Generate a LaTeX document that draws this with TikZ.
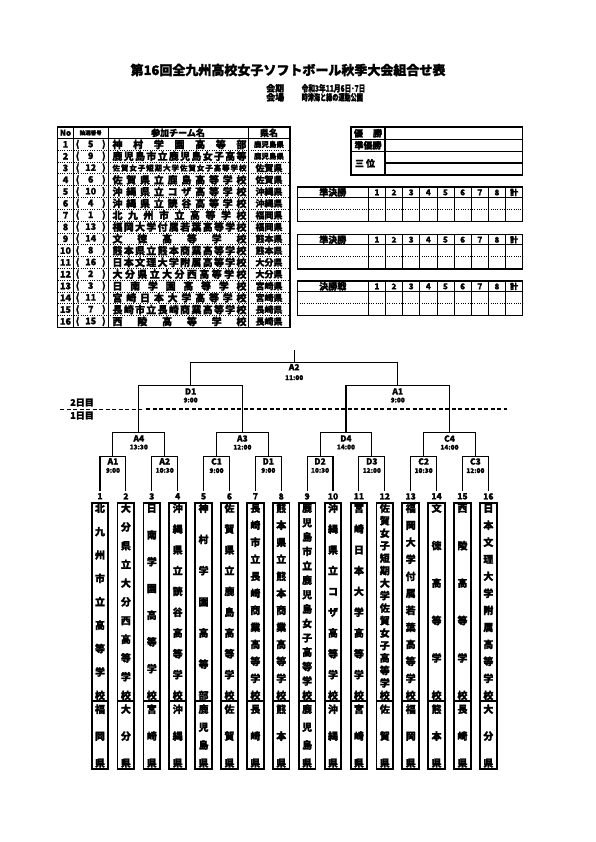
\documentclass[tikz,border=0pt]{standalone}
\usepackage{fontspec}
\usepackage{graphicx}
\usetikzlibrary{positioning}
\setmainfont{Noto Sans CJK JP}[BoldFeatures={FakeBold=1.5}]

% spread characters over a fixed width / height
\def\hspfirst#1{#1\hsprest}
\def\hsprest#1{\ifx#1\relax\else\hfill#1\expandafter\hsprest\fi}
\newcommand\hspread[2]{\hbox to #1{\expandafter\hspfirst#2\relax}}
\def\vspchar#1{\hbox to 0pt{\hss\vrule height .88em depth .12em width 0pt #1\hss}}
\def\vspfirst#1{\vspchar{#1}\vsprest}
\def\vsprest#1{\ifx#1\relax\else\vfill\vspchar{#1}\expandafter\vsprest\fi}
\newcommand\vspread[2]{\vbox to #1{\offinterlineskip\expandafter\vspfirst#2\relax}}
\newcommand\fsz[1]{\bfseries\fontsize{#1}{#1}\selectfont}

\begin{document}
\begin{tikzpicture}[x=1pt, y=-1pt,
    heavy/.style={line width=1.5pt},
    light/.style={line width=0.8pt},
    dotted line/.style={line width=0.8pt, dash pattern=on 1pt off 1.3pt},
    bracket/.style={line width=1.1pt},
    teambox/.style={line width=1.8pt},
    txt/.style={inner sep=0pt, font=\fsz{9}},
    mname/.style={inner sep=0pt, font=\fsz{8.5}},
    mtime/.style={inner sep=0pt, font=\fsz{6.5}}
]
    \useasboundingbox (0,0) rectangle (595,842);

    % Title
    \node[inner sep=0pt, font=\fsz{13}] (title) at (288,70) {第16回全九州高校女子ソフトボール秋季大会組合せ表};
    \node[txt, anchor=west] (kaiki) at (266,88.3) {会期};
    \node[txt, anchor=west] (kaikival) at (301.5,88.3) {\scalebox{0.74}[1]{令和3年11月6日･7日}};
    \node[txt, anchor=west] (kaijo) at (266,97.3) {会場};
    \node[txt, anchor=west] (kaijoval) at (301.5,97.3) {\scalebox{0.68}[1]{時津海と緑の運動公園}};

    % Entry list
    \draw[heavy] (57.5,127) rectangle (290,327.3);
    \foreach \xx in {73.5,108,248} \draw[light] (\xx,127) -- (\xx,327.3);
    \draw[heavy] (57.5,138.5) -- (290,138.5);
    \foreach \k in {1,...,15} \draw[dotted line] (57.5,{138.5+\k*11.8}) -- (290,{138.5+\k*11.8});
    \node[txt, font=\fsz{8}] (hno) at (65.5,132.8) {No};
    \node[txt, font=\fsz{5.5}] (hdraw) at (90.7,132.8) {抽選番号};
    \node[txt] (hteam) at (178,132.8) {参加チーム名};
    \node[txt] (hpref) at (269,132.8) {県名};
    \foreach \no/\dr/\tm/\pf/\fs/\ps in {1/5/神村学園高等部/鹿児島県/10/7.5,
        2/9/鹿児島市立鹿児島女子高等/鹿児島県/10/7.5,
        3/12/佐賀女子短期大学佐賀女子高等学校/佐賀県/7.5/9,
        4/6/佐賀県立鹿島高等学校/佐賀県/10/9,
        5/10/沖縄県立コザ高等学校/沖縄県/10/9,
        6/4/沖縄県立読谷高等学校/沖縄県/10/9,
        7/1/北九州市立高等学校/福岡県/10/9,
        8/13/福岡大学付属若葉高等学校/福岡県/10/9,
        9/14/文徳高等学校/熊本県/10/9,
        10/8/熊本県立熊本商業高等学校/熊本県/10/9,
        11/16/日本文理大学附属高等学校/大分県/10/9,
        12/2/大分県立大分西高等学校/大分県/10/9,
        13/3/日南学園高等学校/宮崎県/10/9,
        14/11/宮崎日本大学高等学校/宮崎県/10/9,
        15/7/長崎市立長崎商業高等学校/長崎県/10/9,
        16/15/西陵高等学校/長崎県/10/9}{
        \node[txt] (no\no) at (65.5,{132.6+\no*11.8}) {\no};
        \node[txt] (dr\no) at (90.7,{132.6+\no*11.8}) {\hbox to 30pt{(\hfill\dr\hfill)}};
        \node[txt, font=\fsz{\fs}] (tm\no) at (179.5,{132.6+\no*11.8}) {\hspread{134pt}{\tm}};
        \node[txt, font=\fsz{\ps}] (pf\no) at (269,{132.6+\no*11.8}) {\pf};
    }

    % Placings
    \draw[heavy] (351,127) rectangle (522.7,175);
    \draw[heavy] (385,127) -- (385,175);
    \draw[light] (351,139) -- (522.7,139);
    \draw[light] (351,151) -- (522.7,151);
    \draw[heavy] (385,163) -- (522.7,163);
    \node[txt] (win) at (368,133.3) {\hspread{28pt}{優勝}};
    \node[txt] (second) at (368,145.3) {準優勝};
    \node[txt] (third) at (365,163.3) {\hspread{20pt}{三位}};

    % Score sheets
    \foreach \ty/\lab in {187/準決勝, 234.3/準決勝, 281/決勝戦}{
        \draw[heavy] (297.3,\ty) rectangle (522.7,{\ty+34.5});
        \draw[heavy] (297.3,{\ty+10.3}) -- (522.7,{\ty+10.3});
        \draw[dotted line] (297.3,{\ty+22.5}) -- (522.7,{\ty+22.5});
        \foreach \c in {0,...,8} \draw[light] ({368.3+\c*17.15},\ty) -- ({368.3+\c*17.15},{\ty+34.5});
        \node[txt] at (332.8,{\ty+5.4}) {\lab};
        \foreach \c/\h in {1/1,2/2,3/3,4/4,5/5,6/6,7/7,8/8,9/計}
            \node[txt, font=\fsz{8}] at ({368.3+(\c-0.5)*17.15},{\ty+5.4}) {\h};
    }

    % Day line
    \draw[light, dash pattern=on 4pt off 2.5pt] (60,409) -- (142,409);
    \draw[line width=1.5pt, dash pattern=on 4pt off 2.5pt] (146,409) -- (507,409);
    \node[txt] (day2) at (82,402.5) {2日目};
    \node[txt] (day1) at (82,415.5) {1日目};

    % Bracket points
    \foreach \i in {1,...,16} \coordinate (t\i) at ({100+(\i-1)*25.89},491);
    \foreach \k in {1,...,8} \coordinate (m\k) at ({100+(2*\k-1.5)*25.89},456.7);
    \foreach \k in {1,...,4} \coordinate (n\k) at ({100+(4*\k-2.5)*25.89},432.7);
    \foreach \k in {1,2} \coordinate (q\k) at ({100+(8*\k-4.5)*25.89},385.7);
    \coordinate (fin) at ({100+7.5*25.89},362.3);
    \coordinate (champ) at ({100+7.5*25.89},350);

    % Bracket lines
    \foreach \k in {1,...,8}{
        \pgfmathtruncatemacro\ka{2*\k-1}
        \pgfmathtruncatemacro\kb{2*\k}
        \draw[bracket] (t\ka) |- (m\k) -| (t\kb);
    }
    \foreach \k in {1,...,4}{
        \pgfmathtruncatemacro\ka{2*\k-1}
        \pgfmathtruncatemacro\kb{2*\k}
        \draw[bracket] (m\ka) |- (n\k) -| (m\kb);
    }
    \draw[bracket] (n1) |- (q1) -| (n2);
    \draw[bracket] (n3) |- (q2) -| (n4);
    \draw[bracket] (q1) |- (fin) -| (q2);
    \draw[bracket] (champ) -- (fin);

    % Game labels
    \foreach \k/\g/\tt in {1/A1/9:00, 2/A2/10:30, 3/C1/9:00, 4/D1/9:00, 5/D2/10:30, 6/D3/12:00, 7/C2/10:30, 8/C3/12:00}{
        \node[mname, below=1.3pt of m\k] (gm\k) {\g};
        \node[mtime, below=3pt of gm\k] {\tt};
    }
    \foreach \k/\g/\tt in {1/A4/13:30, 2/A3/12:00, 3/D4/14:00, 4/C4/14:00}{
        \node[mname, below=2.4pt of n\k] (gn\k) {\g};
        \node[mtime, below=2.6pt of gn\k] {\tt};
    }
    \foreach \k/\g in {1/D1, 2/A1}{
        \node[mname, below=2.4pt of q\k] (gq\k) {\g};
        \node[mtime, below=2.6pt of gq\k] {9:00};
    }
    \node[mname, below=1.5pt of fin] (gfin) {A2};
    \node[mtime, below=4.5pt of gfin] {11:00};

    % Teams
    \foreach \i/\nm/\pf in {1/北九州市立高等学校/福岡県, 2/大分県立大分西高等学校/大分県,
        3/日南学園高等学校/宮崎県, 4/沖縄県立読谷高等学校/沖縄県,
        5/神村学園高等部/鹿児島県, 6/佐賀県立鹿島高等学校/佐賀県,
        7/長崎市立長崎商業高等学校/長崎県, 8/熊本県立熊本商業高等学校/熊本県,
        9/鹿児島市立鹿児島女子高等学校/鹿児島県, 10/沖縄県立コザ高等学校/沖縄県,
        11/宮崎日本大学高等学校/宮崎県, 12/佐賀女子短期大学佐賀女子高等学校/佐賀県,
        13/福岡大学付属若葉高等学校/福岡県, 14/文徳高等学校/熊本県,
        15/西陵高等学校/長崎県, 16/日本文理大学附属高等学校/大分県}{
        \node[txt, font=\fsz{8.5}, below=2pt of t\i] (num\i) {\i};
        \draw[teambox] ([xshift=-8.3pt]t\i |- 0,502.7) rectangle ([xshift=8.3pt]t\i |- 0,701);
        \draw[teambox] ([xshift=-8.3pt]t\i |- 0,701) rectangle ([xshift=8.3pt]t\i |- 0,769.3);
        \node[inner sep=0pt, anchor=north, font=\fsz{10}] (nm\i) at (t\i |- 0,503) {\vspread{196pt}{\nm}};
        \node[inner sep=0pt, anchor=north, font=\fsz{10}] (pf\i) at (t\i |- 0,704) {\vspread{62.5pt}{\pf}};
    }
\end{tikzpicture}
\end{document}
